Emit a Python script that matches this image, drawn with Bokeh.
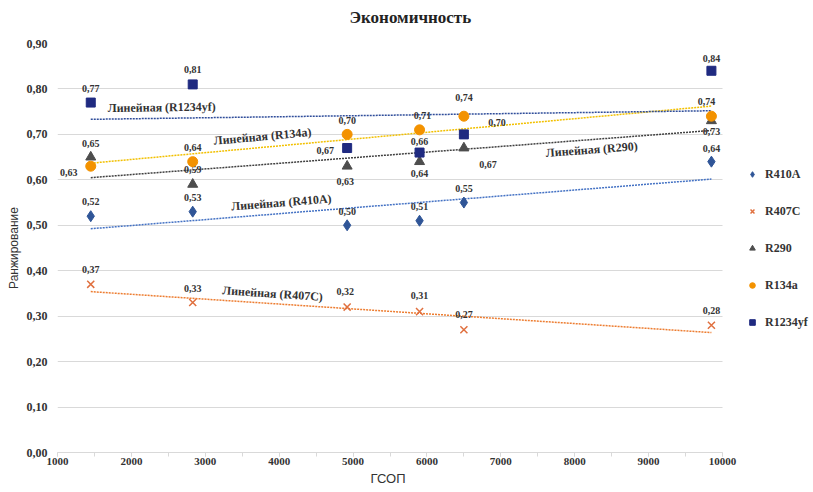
import math
import numpy as np
from bokeh.plotting import figure
from bokeh.models import (Range1d, Legend, LegendItem, CustomJSTickFormatter,
                          SingleIntervalTicker, ColumnDataSource, Title)
from bokeh.core.properties import value
from bokeh.embed import file_html
from bokeh.resources import INLINE

# ---------------- data ----------------
gsop = [1450, 2830, 4920, 5900, 6500, 9850]
series_names = ["R410A", "R407C", "R290", "R134a", "R1234yf"]
r410a = [0.52, 0.53, 0.50, 0.51, 0.55, 0.64]
r407c = [0.37, 0.33, 0.32, 0.31, 0.27, 0.28]
r290 = [0.65, 0.59, 0.63, 0.64, 0.67, 0.73]
r134a = [0.63, 0.64, 0.70, 0.71, 0.74, 0.74]
r1234yf = [0.77, 0.81, 0.67, 0.66, 0.70, 0.84]
title_text = "Экономичность"
x_label = "ГСОП"
y_label = "Ранжирование"
trend_prefix = "Линейная"
x_min, x_max = 1000, 10000
y_min, y_max = 0.0, 0.9

# ---------------- styles ----------------
SERIF = "Liberation Serif"
SANS = "Liberation Sans"
styles = {
    "R410A":   dict(marker="diamond",  size=11, color="#2f5597", trend="#4472c4"),
    "R407C":   dict(marker="x",        size=10, color="#e0703f", trend="#ed7d31"),
    "R290":    dict(marker="triangle", size=10, color="#4d4d4d", trend="#404040"),
    "R134a":   dict(marker="circle",   size=10, color="#f39200", trend="#f2c000"),
    "R1234yf": dict(marker="square",   size=9,  color="#1f2a80", trend="#2f4d9a"),
}
# data label pixel offsets (dx, dy screen; dy negative = up)
label_offsets = {
    "R410A":   [(0, -15), (0, -14), (0, -14), (0, -14), (0, -14), (0, -13)],
    "R407C":   [(0, -15), (0, -14), (-2, -16), (0, -16), (0, -15), (0, -15)],
    "R290":    [(0, -14), (0, -15), (-2, 15), (0, 12), (24, 16), (0, 11)],
    "R134a":   [(-22, 6), (0, -14), (0, -14), (3, -14), (0, -19), (-5, -15)],
    "R1234yf": [(0, -14), (0, -15), (-22, 2), (0, -11), (33, -12), (0, -12)],
}
# trendline label anchors: x in data units, pixel dy from trendline
trend_label_pos = {
    "R410A": (4030, -11),
    "R407C": (3910, -10),
    "R290": (8230, 10),
    "R134a": (3775, -11),
    "R1234yf": (2410, -11),
}

values = {"R410A": r410a, "R407C": r407c, "R290": r290,
          "R134a": r134a, "R1234yf": r1234yf}

W, H = 813, 492
ML, MT, MB = 57, 42, 40
PLOT_W = 665            # width of the x_min..x_max part of the frame
FW, FH = W - ML, H - MT - MB
x_end = x_min + (x_max - x_min) * FW / PLOT_W   # frame extends right for the legend

p = figure(width=W, height=H, output_backend="svg", toolbar_location=None,
           x_range=Range1d(x_min, x_end), y_range=Range1d(y_min, y_max),
           min_border_left=ML, min_border_right=0,
           min_border_top=MT, min_border_bottom=MB)
p.outline_line_color = None
p.background_fill_color = "white"

# spacer (closest to the frame) then the real title above it
p.add_layout(Title(text=" ", text_font_size="9px", standoff=0), "above")
p.add_layout(Title(text=title_text, align="left", offset=292,
                   text_font=SERIF, text_font_style="bold",
                   text_font_size="17px", text_color="#222222"), "above")

p.xgrid.grid_line_color = None
p.ygrid.grid_line_color = "#d9d9d9"
p.ygrid.grid_line_width = 1
p.ygrid.cross_bounds = (x_min, x_max)

p.yaxis.ticker = SingleIntervalTicker(interval=0.1, num_minor_ticks=0)
p.yaxis.formatter = CustomJSTickFormatter(code="return tick.toFixed(2).replace('.', ',');")
p.yaxis.axis_line_color = None
p.yaxis.major_tick_line_color = None
p.yaxis.minor_tick_line_color = None
p.yaxis.major_tick_in = 0
p.yaxis.major_tick_out = 0
p.yaxis.minor_tick_in = 0
p.yaxis.minor_tick_out = 0
p.yaxis.major_label_standoff = 10
p.yaxis.major_label_text_font = SERIF
p.yaxis.major_label_text_font_style = "bold"
p.yaxis.major_label_text_font_size = "12px"
p.yaxis.major_label_text_color = "#333333"
p.yaxis.axis_label = y_label
p.yaxis.axis_label_text_font = SANS
p.yaxis.axis_label_text_font_style = "normal"
p.yaxis.axis_label_text_font_size = "12px"
p.yaxis.axis_label_text_color = "#333333"
p.yaxis.axis_label_standoff = 3

p.xaxis.bounds = (x_min, x_max)
p.xaxis.ticker = SingleIntervalTicker(interval=1000, num_minor_ticks=2)
p.xaxis.axis_line_color = "#d9d9d9"
p.xaxis.major_tick_line_color = "#d9d9d9"
p.xaxis.minor_tick_line_color = "#d9d9d9"
p.xaxis.major_tick_in = 0
p.xaxis.major_tick_out = 4
p.xaxis.minor_tick_in = 0
p.xaxis.minor_tick_out = 4
p.xaxis.major_label_standoff = 1
p.xaxis.major_label_text_font = SERIF
p.xaxis.major_label_text_font_style = "bold"
p.xaxis.major_label_text_font_size = "11px"
p.xaxis.major_label_text_color = "#333333"

# x-axis title centred under the 1000..10000 span
p.add_layout(Title(text=x_label, align="left", offset=313, standoff=6,
                   vertical_align="top", text_font=SANS, text_font_style="normal",
                   text_font_size="13px", text_color="#333333"), "below")

px_per_x = PLOT_W / (x_max - x_min)
px_per_y = FH / (y_max - y_min)

legend_items = []
xs = np.array(gsop, dtype=float)
for name in series_names:
    st = styles[name]
    ys = np.array(values[name], dtype=float)
    slope, icpt = np.polyfit(xs, ys, 1)
    tx = [xs.min(), xs.max()]
    ty = [slope * t + icpt for t in tx]
    p.line(tx, ty, line_color=st["trend"], line_width=1.5, line_dash="2 1")

    # trendline label
    lx, ldy = trend_label_pos[name]
    ang = math.atan(slope * px_per_y / px_per_x)
    p.text(x=[lx], y=[slope * lx + icpt], text=[f"{trend_prefix} ({name})"],
           y_offset=ldy, angle=ang, text_align="center", text_baseline="middle",
           text_font=value(SERIF), text_font_style="bold", text_font_size="12px",
           text_color="#333333")

for name in series_names:
    st = styles[name]
    ys = values[name]
    src = ColumnDataSource(dict(x=gsop, y=ys,
                                lab=[f"{v:.2f}".replace(".", ",") for v in ys],
                                dx=[o[0] for o in label_offsets[name]],
                                dy=[o[1] for o in label_offsets[name]]))
    if st["marker"] == "x":
        r = p.scatter("x", "y", source=src, marker="x", size=st["size"],
                      line_color=st["color"], line_width=1.5)
    else:
        r = p.scatter("x", "y", source=src, marker=st["marker"], size=st["size"],
                      fill_color=st["color"], line_color=st["color"])
    legend_items.append(LegendItem(label=name, renderers=[r]))
    p.text("x", "y", text="lab", source=src, x_offset="dx", y_offset="dy",
           text_align="center", text_baseline="middle",
           text_font=value(SERIF), text_font_style="bold", text_font_size="10px",
           text_color="#333333")

legend = Legend(items=legend_items, location=(PLOT_W + 23, 120), orientation="vertical",
                glyph_width=14, glyph_height=20, spacing=17, padding=0, margin=0,
                background_fill_alpha=0, border_line_color=None,
                label_text_font=SERIF, label_text_font_style="bold",
                label_text_font_size="12px", label_text_color="#333333",
                label_standoff=6)
p.add_layout(legend)

open("out.html", "w").write(file_html(p, INLINE))
